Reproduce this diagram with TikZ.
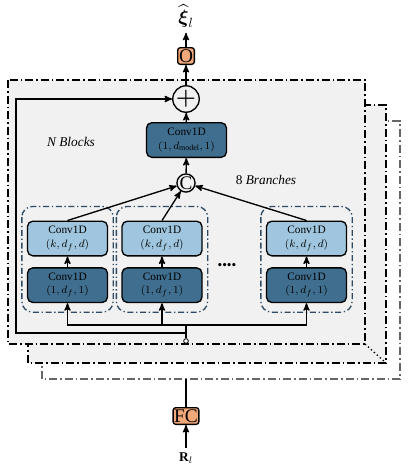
\documentclass[tikz,border=0pt]{standalone}
\usepackage{amsmath}
\usepackage{fontspec}
\setmainfont{Liberation Serif}
\usetikzlibrary{arrows,positioning,calc}

\definecolor{blockgray}{HTML}{F1F1F1}
\definecolor{convlight}{HTML}{9FC6DE}
\definecolor{convdark}{HTML}{3F6E8F}
\definecolor{groupline}{HTML}{2F4A62}
\definecolor{headorange}{HTML}{F2A878}

\begin{document}
\begin{tikzpicture}[x=0.75pt,y=-0.75pt,>=stealth',line width=1pt,node distance=8pt,
    conv/.style={draw,rounded corners=4pt,minimum width=60pt,minimum height=26pt,
        align=center,inner sep=1pt,font=\fontsize{8.5}{10}\selectfont},
    light/.style={conv,fill=convlight},
    dark/.style={conv,fill=convdark},
    head/.style={draw,rounded corners=2pt,fill=headorange,inner sep=0.8pt,
        minimum height=12.5pt,minimum width=12.5pt,font=\fontsize{14.5}{15}\selectfont},
    op/.style={circle,draw,inner sep=0pt,minimum size=12.5pt},
    blocks/.style={dash pattern=on 6pt off 2.2pt on 1.3pt off 2.2pt},
    group/.style={draw=groupline,rounded corners=8pt,dash pattern=on 4.5pt off 2pt on 1pt off 2pt}]

\useasboundingbox (0,0) rectangle (408,469);

% stacked blocks
\draw[blocks,gray!80!black,line width=0.9pt] (42,121) rectangle (400,379);
\draw[blocks,fill=blockgray,line width=1.1pt] (28,105) rectangle (386,363);
\draw[blocks,fill=blockgray,line width=1.4pt] (8,80) rectangle (365,344);
\draw[dotted,line width=1pt] (365,344) -- (386,363);

% branches
\node[light] (t1) at (67.5,238.5) {Conv1D\\$(k,d_f,d)$};
\node[dark] (b1) [below=of t1] {Conv1D\\$(1,d_f,1)$};
\node[light] (t2) at (162,238.5) {Conv1D\\$(k,d_f,d)$};
\node[dark] (b2) [below=of t2] {Conv1D\\$(1,d_f,1)$};
\node[light] (t3) at (306.5,238.5) {Conv1D\\$(k,d_f,d)$};
\node[dark] (b3) [below=of t3] {Conv1D\\$(1,d_f,1)$};

\draw[group] ($(t1.north west)+(-5,-14)$) rectangle ($(b1.south east)+(5,9)$);
\draw[group] ($(t2.north west)+(-5,-14)$) rectangle ($(b2.south east)+(5,9)$);
\draw[group] ($(t3.north west)+(-5,-14)$) rectangle ($(b3.south east)+(5,9)$);

\node (dots) at (227,266) {\textbullet\textbullet\textbullet\textbullet};

\node[op,font=\Large] (cat) at (186,183) {C};
\node[dark] (proj) at (186.5,140) {Conv1D\\$(1,d_{\mathrm{model}},1)$};
\node[op,font=\LARGE] (add) at (186,99) {$\boldsymbol{+}$};
\node[head] (out) at (186,56) {O};
\node[font=\Large] (xi) at (186,16) {$\widehat{\boldsymbol{\xi}}_l$};

\node[font=\itshape] (nblk) at (71,142) {N Blocks};
\node (nbr) at (266,180) {8 \textit{Branches}};

\node[circle,draw,fill=white,inner sep=0pt,minimum size=3.5pt,line width=0.6pt] (in) at (186,341) {};
\coordinate (split) at (186,325);
\coordinate (skip) at (186,333);
\coordinate (corner) at (16,333);

\node[head] (fc) at (186,416) {FC};
\node (R) at (186,458) {$\mathbf{R}_l$};
\coordinate (stack) at (186,379);

% connections
\draw (in) -- (split);
\draw[->] (split) -| (b1);
\draw[->] (split) -| (b2);
\draw[->] (split) -| (b3);
\path[->] (b1) edge (t1)
          (b2) edge (t2)
          (b3) edge (t3);
\draw[->] (t1.north) -- (cat);
\draw[->] (t2.north) -- (cat);
\draw[->] (t3.north) -- (cat);
\draw[->] (cat) -- (proj);
\draw[->] (proj) -- (add);
\draw[->] (skip) -- (corner) |- (add);
\draw[->] (add) -- (out);
\draw[->] (out) -- (xi);
\draw (fc) -- (stack);
\draw[->] (R) -- (fc);

\end{tikzpicture}
\end{document}
